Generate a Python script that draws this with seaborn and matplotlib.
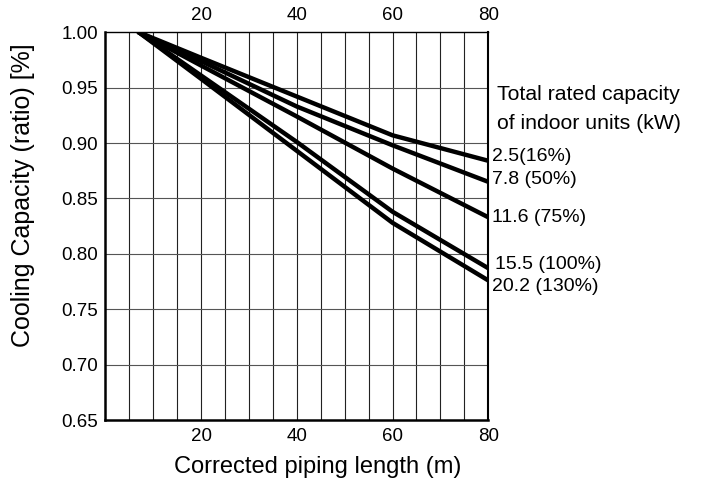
import matplotlib
matplotlib.use("Agg")
import matplotlib.pyplot as plt
import numpy as np
import pandas as pd
import seaborn as sns

# Piping length (m) at which each curve is read
lengths = [7, 20, 40, 60, 80]

# Cooling capacity ratio for each total indoor-unit capacity
cap_2_5 = [1.000, 0.977, 0.942, 0.907, 0.884]
cap_7_8 = [1.000, 0.974, 0.933, 0.898, 0.865]
cap_11_6 = [1.000, 0.970, 0.924, 0.877, 0.833]
cap_15_5 = [1.000, 0.961, 0.901, 0.838, 0.787]
cap_20_2 = [1.000, 0.958, 0.893, 0.828, 0.776]

series_labels = ["2.5(16%)", "7.8 (50%)", "11.6 (75%)", "15.5 (100%)", "20.2 (130%)"]
series_values = [cap_2_5, cap_7_8, cap_11_6, cap_15_5, cap_20_2]

x_ticks = [20, 40, 60, 80]
y_ticks = [1.00, 0.95, 0.90, 0.85, 0.80, 0.75, 0.70, 0.65]

rows = []
for label, vals in zip(series_labels, series_values):
    for x, y in zip(lengths, vals):
        rows.append({"length": x, "capacity": y, "series": label})
df = pd.DataFrame(rows)

sns.set_style("white")
plt.rcParams["font.family"] = ["Liberation Sans", "DejaVu Sans"]
plt.rcParams["text.color"] = "black"
plt.rcParams["axes.labelcolor"] = "black"
plt.rcParams["xtick.color"] = "black"
plt.rcParams["ytick.color"] = "black"

fig = plt.figure(figsize=(7.02, 4.82), dpi=100)
ax = fig.add_axes([0.150, 0.1286, 0.5456, 0.8044])

sns.lineplot(data=df, x="length", y="capacity", hue="series",
             palette=["black"] * len(series_labels), linewidth=3.2,
             legend=False, ax=ax, zorder=3)

ax.set_xlim(0, 80)
ax.set_ylim(0.65, 1.00)

# grid: every 5 m horizontally, every 0.05 vertically
for gx in np.arange(5, 80, 5):
    ax.axvline(gx, color="#222222", linewidth=0.8, zorder=1)
for gy in y_ticks[1:-1]:
    ax.axhline(gy, color="#555555", linewidth=0.8, zorder=1)

ax.set_xticks(x_ticks)
ax.set_yticks(y_ticks)
ax.set_yticklabels([f"{v:.2f}" for v in y_ticks])
ax.tick_params(axis="both", length=0, labelsize=13.5, pad=5)
ax.tick_params(axis="x", top=True, labeltop=True, pad=6)

for side, lw in [("left", 1.8), ("bottom", 1.8), ("right", 1.5), ("top", 1.0)]:
    ax.spines[side].set_visible(True)
    ax.spines[side].set_color("black")
    ax.spines[side].set_linewidth(lw)

ax.set_xlabel("Corrected piping length (m)", fontsize=17)
ax.set_ylabel("Cooling Capacity (ratio) [%]", fontsize=18)
ax.xaxis.set_label_coords(0.554, -0.092)
ax.yaxis.set_label_coords(-0.1836, 0.579)

# Curve captions on the right
ax.text(81.8, 0.9434, "Total rated capacity", fontsize=15.3, va="center", ha="left", clip_on=False)
ax.text(81.8, 0.918, "of indoor units (kW)", fontsize=15.3, va="center", ha="left", clip_on=False)
label_pos = [(80.7, 0.8877), (80.7, 0.8667), (80.7, 0.833), (81.4, 0.790), (80.7, 0.7703)]
for label, (tx, ty) in zip(series_labels, label_pos):
    ax.text(tx, ty, label, fontsize=14, va="center", ha="left", clip_on=False)

fig.savefig("out.png", dpi=100)
